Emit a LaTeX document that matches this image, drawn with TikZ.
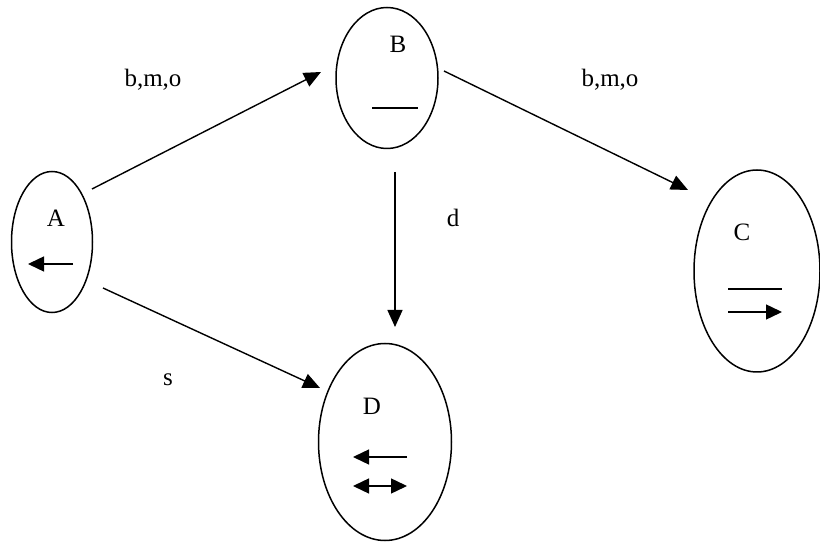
\documentclass[tikz,border=0pt]{standalone}
\usepackage{fontspec}
\setmainfont{Liberation Serif}
\usetikzlibrary{shapes.geometric,arrows.meta}
\tikzset{
  symtip/.tip={Triangle[length=16pt,width=15pt]},
  conntip/.tip={Triangle[length=17pt,width=15pt]}}
\begin{document}
\begin{tikzpicture}[x=1pt,y=-1pt,
  state/.style={draw,ellipse,line width=1.5pt,inner sep=0pt},
  conn/.style={line width=1.4pt,-conntip},
  sym/.style={line width=1.4pt},
  lbl/.style={font=\fontsize{25}{29}\selectfont,inner sep=0pt}]
\useasboundingbox (0,0) rectangle (820,545);

% states
\node[state,minimum width=81pt,minimum height=141pt] (A) at (52,242) {};
\node[state,minimum width=102pt,minimum height=141pt] (B) at (387,78) {};
\node[state,minimum width=126pt,minimum height=202pt] (C) at (757,271) {};
\node[state,minimum width=133pt,minimum height=197pt] (D) at (385,442) {};

% state names
\node[lbl] (Aname) at (56,218) {A};
\node[lbl] (Bname) at (398,44) {B};
\node[lbl] (Cname) at (742,232) {C};
\node[lbl] (Dname) at (372,406) {D};

% symbols inside the states
\coordinate (Ar0) at (73,264);  \coordinate (Ar1) at (28,264);
\draw[sym,-symtip] (Ar0) -- (Ar1);
\coordinate (Bl0) at (372,108); \coordinate (Bl1) at (418,108);
\draw[sym] (Bl0) -- (Bl1);
\coordinate (Cl0) at (728,289); \coordinate (Cl1) at (782,289);
\draw[sym] (Cl0) -- (Cl1);
\coordinate (Cr0) at (728,312); \coordinate (Cr1) at (782,312);
\draw[sym,-symtip] (Cr0) -- (Cr1);
\coordinate (Dr0) at (407,457); \coordinate (Dr1) at (353,457);
\draw[sym,-symtip] (Dr0) -- (Dr1);
\coordinate (Dd0) at (353,486); \coordinate (Dd1) at (407,486);
\draw[sym,symtip-symtip] (Dd0) -- (Dd1);

% transitions
\coordinate (ab0) at (92,189);  \coordinate (ab1) at (321,72);
\coordinate (bc0) at (444,71);  \coordinate (bc1) at (688,190);
\coordinate (ad0) at (103,288); \coordinate (ad1) at (320,388);
\coordinate (bd0) at (395,172); \coordinate (bd1) at (395,327);
\draw[conn] (ab0) -- (ab1);
\draw[conn] (bc0) -- (bc1);
\draw[conn] (ad0) -- (ad1);
\draw[conn] (bd0) -- (bd1);

% transition labels
\node[lbl] (lab) at (153,80) {b,m,o};
\node[lbl] (lbc) at (610,80) {b,m,o};
\node[lbl] (lad) at (168,380) {s};
\node[lbl] (lbd) at (453,218) {d};
\end{tikzpicture}
\end{document}
